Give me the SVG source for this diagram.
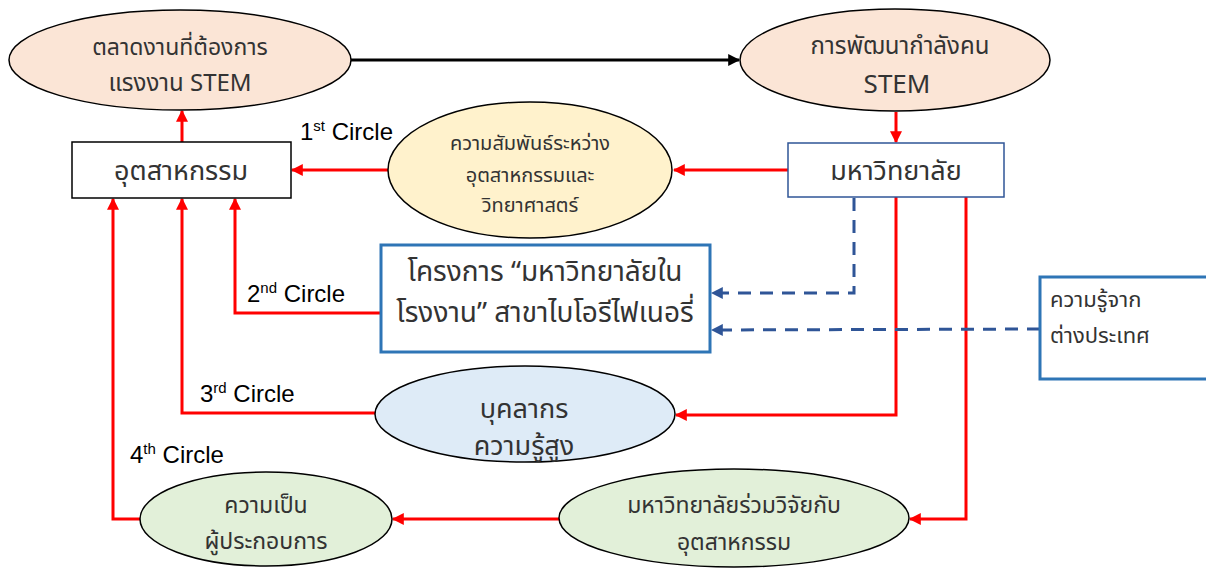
<svg xmlns="http://www.w3.org/2000/svg" width="1206" height="569" viewBox="0 0 1206 569">
<style>
.t{font-family:"Noto Sans Thai","Leelawadee UI","Liberation Sans",sans-serif;fill:#333;text-anchor:middle}
.lbl{font-family:"Liberation Sans","DejaVu Sans",sans-serif;fill:#000;font-size:24px}
.sup{font-size:15px}
.red{fill:none;stroke:#ff0000;stroke-width:3}
.blk{fill:none;stroke:#000;stroke-width:3}
.dash{fill:none;stroke:#2f5597;stroke-width:3;stroke-dasharray:13 9}
.ell{stroke:#000;stroke-width:1.5}
</style>
<defs>
<marker id="ar" viewBox="0 0 10 10" refX="9" refY="5" markerWidth="4" markerHeight="4" orient="auto" markerUnits="strokeWidth"><path d="M0,0 L10,5 L0,10 z" fill="#ff0000"/></marker>
<marker id="ak" viewBox="0 0 10 10" refX="9" refY="5" markerWidth="4" markerHeight="4" orient="auto" markerUnits="strokeWidth"><path d="M0,0 L10,5 L0,10 z" fill="#000"/></marker>
<marker id="ab" viewBox="0 0 10 10" refX="9" refY="5" markerWidth="4" markerHeight="4" orient="auto" markerUnits="strokeWidth"><path d="M0,0 L10,5 L0,10 z" fill="#2f5597"/></marker>
</defs>
<g id="connectors">
<line class="blk" x1="351" y1="60" x2="739" y2="60" marker-end="url(#ak)"/>
<line class="red" x1="896" y1="112" x2="896" y2="142" marker-end="url(#ar)"/>
<line class="red" x1="182" y1="142" x2="182" y2="111" marker-end="url(#ar)"/>
<line class="red" x1="788" y1="170" x2="674" y2="170" marker-end="url(#ar)"/>
<line class="red" x1="388" y1="170" x2="292" y2="170" marker-end="url(#ar)"/>
<polyline class="red" points="381,313 235,313 235,199" marker-end="url(#ar)"/>
<polyline class="red" points="376,413 182,413 182,199" marker-end="url(#ar)"/>
<polyline class="red" points="140,519 113,519 113,199" marker-end="url(#ar)"/>
<polyline class="red" points="896,197 896,415 676,415" marker-end="url(#ar)"/>
<polyline class="red" points="966,197 966,519 910,519" marker-end="url(#ar)"/>
<line class="red" x1="559" y1="519" x2="393" y2="519" marker-end="url(#ar)"/>
<polyline class="dash" points="854,198 854,293 712,293" marker-end="url(#ab)"/>
<line class="dash" x1="1040" y1="329" x2="712" y2="330" marker-end="url(#ab)"/>
</g>
<g id="n-market">
<ellipse class="ell" cx="180" cy="60" rx="171" ry="50" fill="#fbe5d6"/>
<text class="t" font-size="23" x="180" y="55">ตลาดงานที่ต้องการ</text>
<text class="t" font-size="24" x="180" y="91">แรงงาน STEM</text>
</g>
<g id="n-dev">
<ellipse class="ell" cx="895" cy="60" rx="155" ry="51" fill="#fbe5d6"/>
<text class="t" font-size="24" x="900" y="54">การพัฒนากำลังคน</text>
<text class="t" font-size="26" x="897" y="93">STEM</text>
</g>
<g id="n-industry">
<rect x="72" y="142" width="219" height="56" fill="#fff" stroke="#000" stroke-width="1.5"/>
<text class="t" font-size="27" x="181" y="180">อุตสาหกรรม</text>
</g>
<g id="n-relation">
<ellipse class="ell" cx="530" cy="170" rx="142" ry="68" fill="#fff2cc"/>
<text class="t" font-size="20" x="530" y="150">ความสัมพันธ์ระหว่าง</text>
<text class="t" font-size="20" x="530" y="182">อุตสาหกรรมและ</text>
<text class="t" font-size="20" x="530" y="212">วิทยาศาสตร์</text>
</g>
<g id="n-univ">
<rect x="788" y="143" width="216" height="54" fill="#fff" stroke="#2f5597" stroke-width="1.5"/>
<text class="t" font-size="27" x="896" y="180">มหาวิทยาลัย</text>
</g>
<g id="n-project">
<rect x="381" y="245" width="329" height="107" fill="#fff" stroke="#2e75b6" stroke-width="3"/>
<text class="t" font-size="28" x="545" y="281">โครงการ “มหาวิทยาลัยใน</text>
<text class="t" font-size="28" x="545" y="322">โรงงาน” สาขาไบโอรีไฟเนอรี่</text>
</g>
<g id="n-foreign">
<rect x="1040" y="277" width="172" height="102" fill="#fff" stroke="#2e75b6" stroke-width="3"/>
<text class="t" font-size="22" x="1050" y="307" style="text-anchor:start">ความรู้จาก</text>
<text class="t" font-size="22" x="1050" y="343" style="text-anchor:start">ต่างประเทศ</text>
</g>
<g id="n-people">
<ellipse class="ell" cx="525" cy="414" rx="150" ry="48" fill="#deebf7"/>
<text class="t" font-size="27" x="524" y="418">บุคลากร</text>
<text class="t" font-size="27" x="524" y="455">ความรู้สูง</text>
</g>
<g id="n-entre">
<ellipse class="ell" cx="266" cy="519" rx="126" ry="47" fill="#e2f0d9"/>
<text class="t" font-size="23" x="266" y="513">ความเป็น</text>
<text class="t" font-size="23" x="266" y="549">ผู้ประกอบการ</text>
</g>
<g id="n-research">
<ellipse class="ell" cx="734" cy="518" rx="175" ry="49" fill="#e2f0d9"/>
<text class="t" font-size="23" x="734" y="513">มหาวิทยาลัยร่วมวิจัยกับ</text>
<text class="t" font-size="23" x="734" y="550">อุตสาหกรรม</text>
</g>
<g id="labels">
<text class="lbl" x="300" y="140">1<tspan class="sup" dy="-9">st</tspan><tspan dy="9"> Circle</tspan></text>
<text class="lbl" x="247" y="302">2<tspan class="sup" dy="-9">nd</tspan><tspan dy="9"> Circle</tspan></text>
<text class="lbl" x="200" y="402">3<tspan class="sup" dy="-9">rd</tspan><tspan dy="9"> Circle</tspan></text>
<text class="lbl" x="130" y="463">4<tspan class="sup" dy="-9">th</tspan><tspan dy="9"> Circle</tspan></text>
</g>
</svg>
